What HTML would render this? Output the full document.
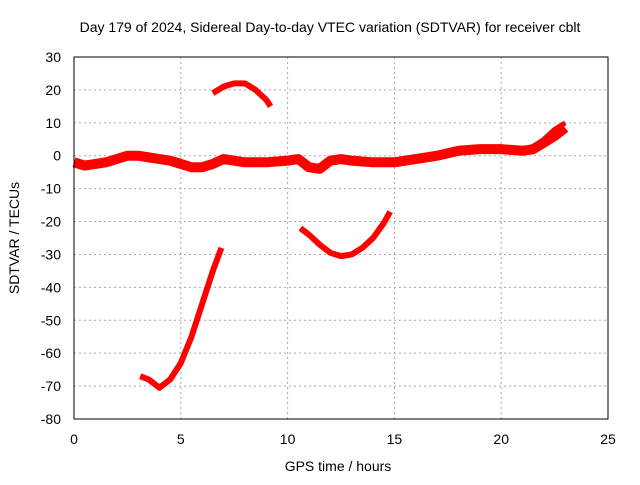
<!DOCTYPE html>
<html><head><meta charset="utf-8"><style>
body{margin:0;background:#fff}
svg text{font-family:"Liberation Sans",sans-serif;font-size:14px;fill:#000}
</style></head><body>
<svg id="c" width="640" height="480" xmlns="http://www.w3.org/2000/svg">
<text x="330" y="32" text-anchor="middle">Day 179 of 2024, Sidereal Day-to-day VTEC variation (SDTVAR) for receiver cblt</text>
<text x="338" y="471" text-anchor="middle">GPS time / hours</text>
<text transform="translate(19,238) rotate(-90)" text-anchor="middle">SDTVAR / TECUs</text>
<g id="grid"></g><g id="ticks"></g><g id="series"></g>
<rect x="74" y="57" width="534" height="362" fill="none" stroke="#000" stroke-width="1"/>
</svg>
<script>
const xTicks=[0,5,10,15,20,25];
const yTicks=[30,20,10,0,-10,-20,-30,-40,-50,-60,-70,-80];
const mainX=[0,0.5,1,1.5,2,2.5,3,3.5,4,4.5,5,5.5,6,6.5,7,7.5,8,9,10,10.5,11,11.5,12,12.5,13,14,15,16,17,18,19,20,21,21.5,22,22.5,23];
const mainY=[-2,-3,-2.5,-2,-1,0,0,-0.5,-1,-1.5,-2.5,-3.5,-3.5,-2.5,-1,-1.5,-2,-2,-1.5,-1,-3.5,-4,-1.5,-1,-1.5,-2,-2,-1,0,1.5,2,2,1.5,2,4,6,8.5];
const endX=[21.5,22,22.5,23];
const endY=[2.5,5,8,10];
const topX=[6.5,7,7.5,8,8.5,9,9.2];
const topY=[19,21,22,22,20,17,15];
const lowX=[3.1,3.5,4,4.5,5,5.5,6,6.5,6.9];
const lowY=[-67,-68,-70.5,-68,-63,-55,-45,-35,-28];
const midX=[10.6,11,11.5,12,12.5,13,13.5,14,14.5,14.8];
const midY=[-22,-24,-27,-29.5,-30.5,-30,-28,-25,-20.5,-17];
const NS="http://www.w3.org/2000/svg";
const X=v=>74+v*534/25, Y=v=>57+(30-v)*362/110;
const grid=document.getElementById('grid'),ticks=document.getElementById('ticks'),ser=document.getElementById('series');
function mk(t,a,p){const e=document.createElementNS(NS,t);for(const k in a)e.setAttribute(k,a[k]);p.appendChild(e);return e;}
xTicks.forEach(v=>{
 const g=mk('line',{x1:X(v),x2:X(v),y1:57,y2:419,stroke:'#aaa','stroke-dasharray':'2,3'},grid);
 
 
 const t=mk('text',{x:X(v),y:444,'text-anchor':'middle'},ticks);t.textContent=v;
 
 
});
yTicks.forEach(v=>{
 const g=mk('line',{x1:74,x2:608,y1:Y(v),y2:Y(v),stroke:'#aaa','stroke-dasharray':'2,3'},grid);
 
 
 const t=mk('text',{x:61,y:Y(v)+5,'text-anchor':'end'},ticks);t.textContent=v;
 
 
});
function line(xs,ys,name,w){
 const p=mk('polyline',{points:xs.map((x,i)=>X(x)+','+Y(ys[i])).join(' '),fill:'none',stroke:'#f00','stroke-width':w,'stroke-linejoin':'round','stroke-linecap':'butt'},ser);
 
 
}
line(mainX,mainY,'main-sdtvar-band',10);
line(endX,endY,'main-band-upper-branch',5);
line(topX,topY,'upper-arc-series',6);
line(lowX,lowY,'lower-rise-series',6);
line(midX,midY,'middle-arc-series',6);
</script>
</body></html>
